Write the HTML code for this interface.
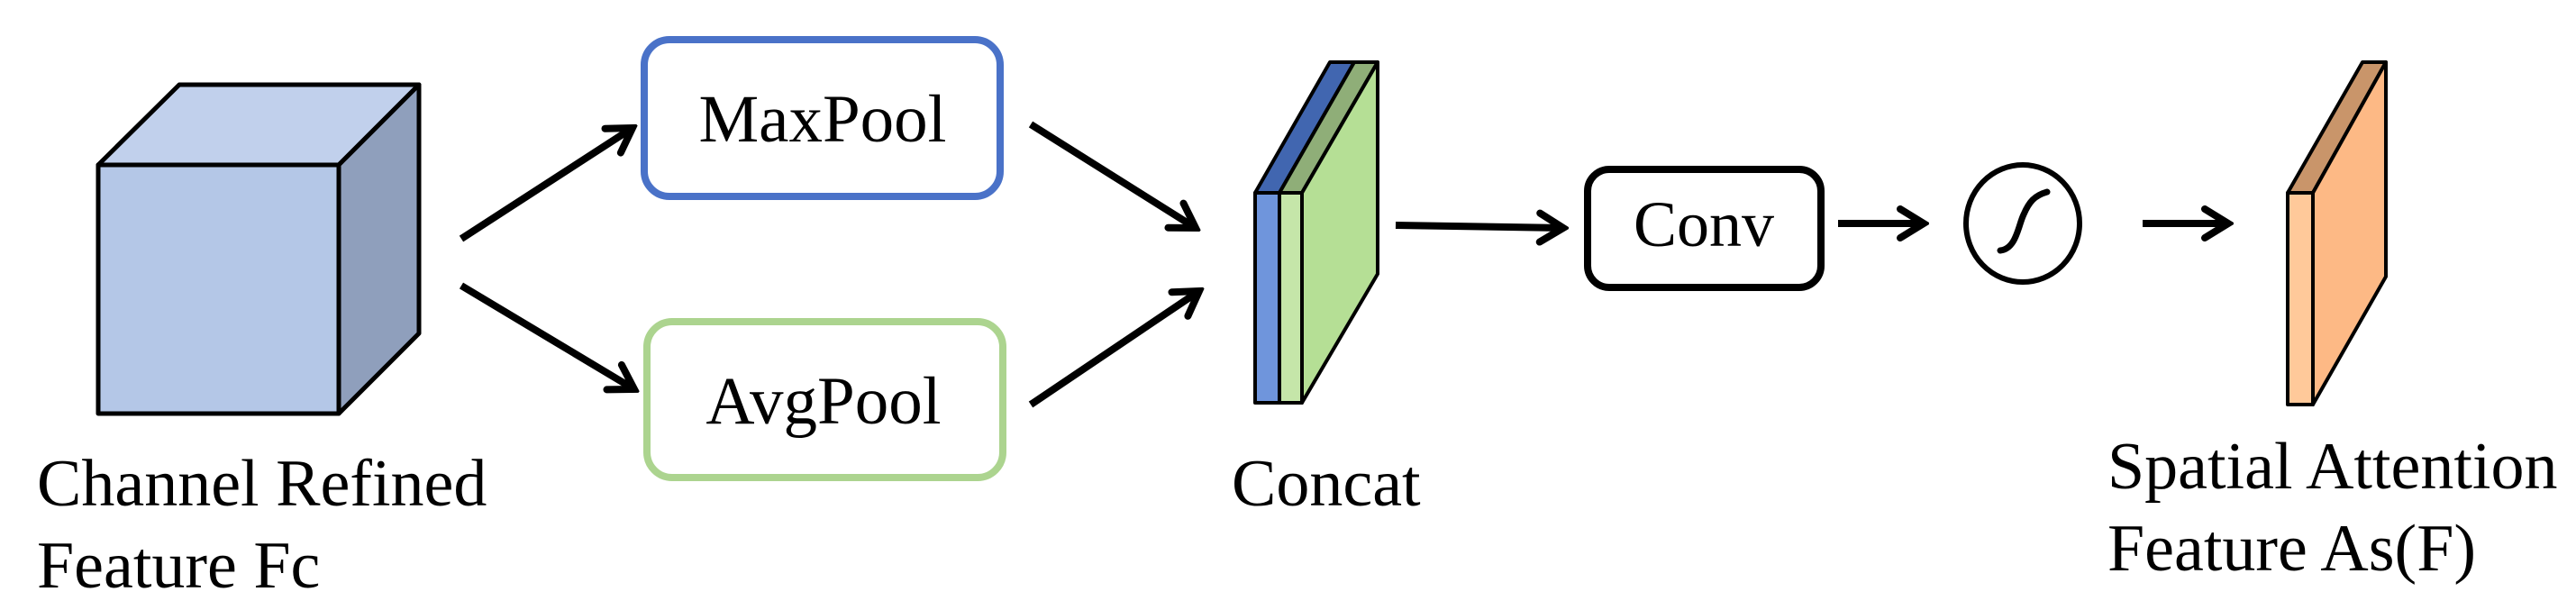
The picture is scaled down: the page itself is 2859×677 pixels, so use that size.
<!DOCTYPE html>
<html><head><meta charset="utf-8"><style>
html,body{margin:0;padding:0;background:#fff;}
svg{display:block;}
</style></head><body>
<svg width="2859" height="677" viewBox="0 0 2859 677" xmlns="http://www.w3.org/2000/svg">
<defs>
<marker id="ah" markerUnits="userSpaceOnUse" viewBox="0 0 40 40" refX="34" refY="20" markerWidth="40" markerHeight="40" orient="auto">
<path d="M8,4 L34,20 L8,36" fill="none" stroke="#000" stroke-width="8" stroke-linecap="round" stroke-linejoin="miter"/>
</marker>
</defs>
<g stroke="#000" stroke-width="5" stroke-linejoin="round">
<polygon points="109,183 199,94 465,94 376,183" fill="#c1d0ec"/>
<polygon points="376,183 465,94 465,370 376,459" fill="#8f9fbc"/>
<rect x="109" y="183" width="267" height="276" fill="#b4c7e7"/>
</g>
<rect x="715" y="44" width="395" height="174" rx="28" fill="none" stroke="#4a72c8" stroke-width="8"/>
<text x="913" y="157" font-size="75" text-anchor="middle" font-family="Liberation Serif, Times New Roman, serif">MaxPool</text>
<rect x="718" y="357" width="395" height="173" rx="28" fill="none" stroke="#acd48f" stroke-width="8"/>
<text x="914" y="470" font-size="75" text-anchor="middle" font-family="Liberation Serif, Times New Roman, serif">AvgPool</text>
<g stroke="#000" stroke-width="8" fill="none" marker-end="url(#ah)">
<line x1="512" y1="265" x2="702" y2="142"/>
<line x1="512" y1="317" x2="704" y2="432"/>
<line x1="1144" y1="138" x2="1327" y2="253"/>
<line x1="1144" y1="449" x2="1331" y2="323"/>
<line x1="1549" y1="250" x2="1735" y2="253"/>
<line x1="2040" y1="248" x2="2135" y2="248"/>
<line x1="2378" y1="248" x2="2473" y2="248"/>
</g>
<g stroke="#000" stroke-width="4" stroke-linejoin="round">
<polygon points="1393,214 1476,69 1503,69 1420,214" fill="#4166b0"/>
<rect x="1393" y="214" width="27" height="233" fill="#6f95dc"/>
<polygon points="1420,214 1503,69 1529,69 1445,214" fill="#8fae78"/>
<polygon points="1445,214 1529,69 1529,304 1445,447" fill="#b5df95"/>
<rect x="1420" y="214" width="25" height="233" fill="#c5e6a9"/>
</g>
<rect x="1762" y="188" width="259" height="131" rx="24" fill="none" stroke="#000" stroke-width="8"/>
<text x="1891" y="273" font-size="72" text-anchor="middle" font-family="Liberation Serif, Times New Roman, serif">Conv</text>
<ellipse cx="2245" cy="248" rx="63" ry="65" fill="none" stroke="#000" stroke-width="6"/>
<path d="M2220,278 C2238,276 2240,250 2246,238 C2252,224 2258,217 2272,213" fill="none" stroke="#000" stroke-width="7" stroke-linecap="round"/>
<g stroke="#000" stroke-width="4" stroke-linejoin="round">
<polygon points="2539,214 2622,69 2648,69 2567,214" fill="#c9956a"/>
<polygon points="2567,214 2648,69 2648,307 2567,449" fill="#fdb985"/>
<rect x="2539" y="214" width="28" height="235" fill="#ffc99a"/>
</g>
<g font-family="Liberation Serif, Times New Roman, serif" font-size="74" fill="#000">
<text x="41" y="561">Channel Refined</text>
<text x="41" y="652">Feature Fc</text>
<text x="1367" y="561">Concat</text>
<text x="2339" y="542">Spatial Attention</text>
<text x="2339" y="633">Feature As(F)</text>
</g>
</svg>
</body></html>
